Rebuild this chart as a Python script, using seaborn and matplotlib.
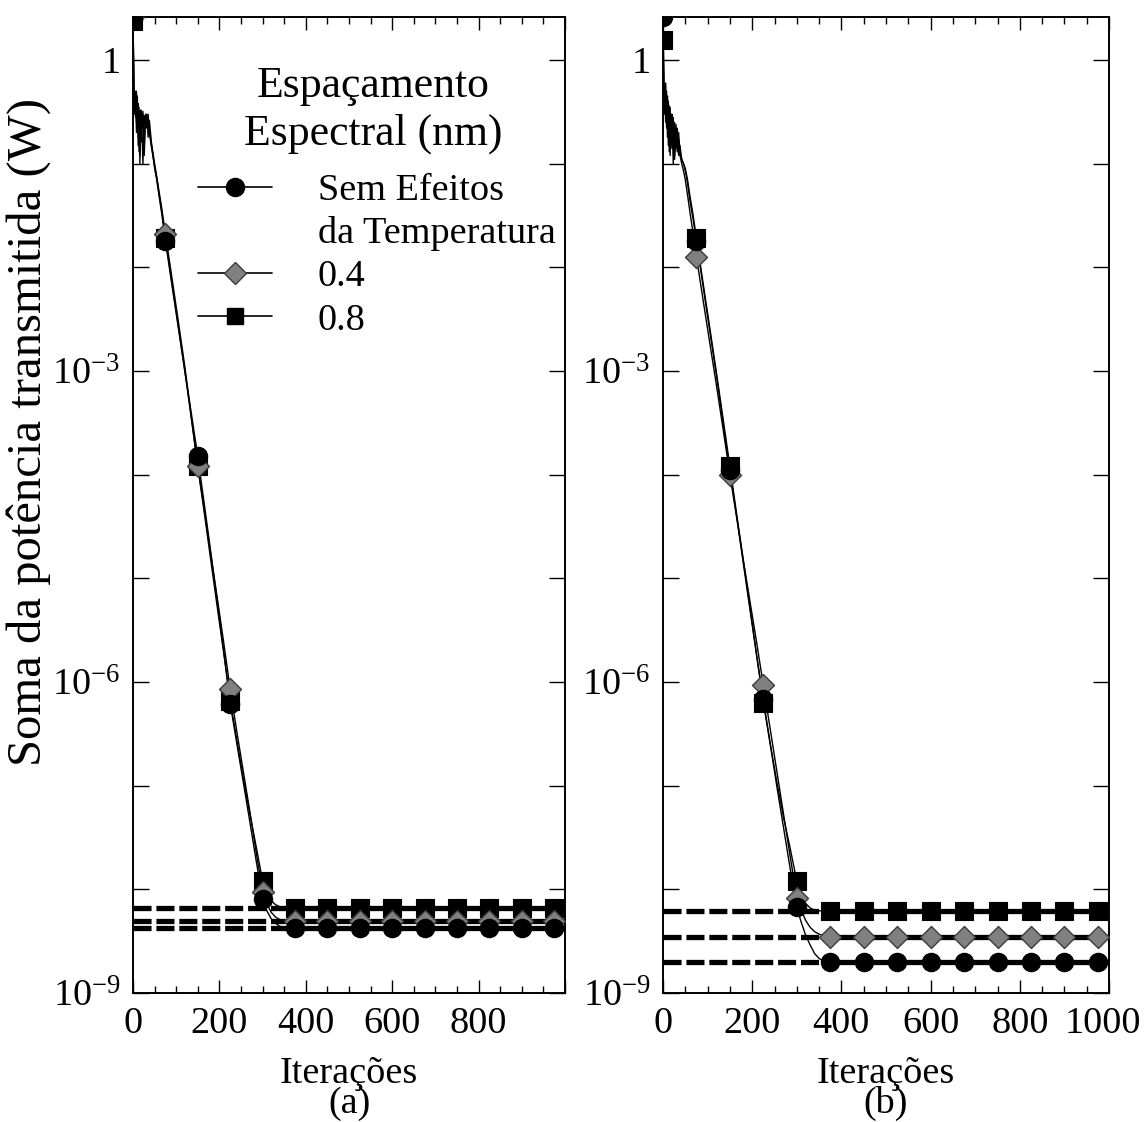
import matplotlib
matplotlib.use("Agg")
import matplotlib.pyplot as plt
from matplotlib.lines import Line2D
from matplotlib.transforms import ScaledTranslation
from matplotlib.ticker import FixedLocator, FixedFormatter, MultipleLocator, NullLocator
import seaborn as sns

# ---------------- data ----------------
curve_iter = [0, 2, 4, 6, 8, 10, 12, 14, 16, 18, 20, 23, 26, 29, 32, 35, 38, 42, 46, 50,
              55, 60, 67, 75, 90, 105, 120, 135, 150, 165, 180, 195, 210, 225, 240, 255,
              270, 285, 300, 310, 320, 330, 340, 350, 360, 375, 1000]

# panel (a)
a_sem = [2.5, 0.55, 0.3, 0.5, 0.2, 0.45, 0.15, 0.35, 0.1, 0.3, 0.22, 0.32, 0.12, 0.3, 0.25, 0.28,
         0.2, 0.15, 0.12, 0.09, 0.07, 0.05, 0.032, 0.018,
         6.8e-3, 2.6e-3, 1.0e-3, 3.9e-4, 1.5e-4, 5.2e-5, 1.8e-5, 6.0e-6, 2.0e-6, 6.2e-7, 2.6e-7,
         1.1e-7, 4.6e-8, 1.9e-8, 8.1e-9,
         6.2e-9, 5.2e-9, 4.7e-9, 4.4e-9, 4.3e-9, 4.2e-9, 4.2e-9, 4.2e-9]
a_04 = [2.6, 0.6, 0.35, 0.45, 0.25, 0.4, 0.18, 0.3, 0.12, 0.33, 0.2, 0.3, 0.15, 0.27, 0.22, 0.3,
        0.21, 0.16, 0.13, 0.1, 0.075, 0.055, 0.036, 0.021,
        8.0e-3, 3.0e-3, 1.1e-3, 3.6e-4, 1.2e-4, 4.6e-5, 1.7e-5, 6.5e-6, 2.4e-6, 8.5e-7, 3.4e-7,
        1.4e-7, 5.8e-8, 2.3e-8, 9.5e-9,
        7.2e-9, 6.0e-9, 5.4e-9, 5.1e-9, 5.0e-9, 4.9e-9, 4.9e-9, 4.9e-9]
a_08 = [2.4, 0.5, 0.4, 0.28, 0.5, 0.22, 0.38, 0.13, 0.32, 0.16, 0.28, 0.1, 0.29, 0.24, 0.3, 0.18,
        0.26, 0.17, 0.12, 0.095, 0.072, 0.052, 0.034, 0.019,
        7.2e-3, 2.7e-3, 1.0e-3, 3.5e-4, 1.2e-4, 4.3e-5, 1.5e-5, 5.3e-6, 1.9e-6, 6.6e-7, 2.8e-7,
        1.2e-7, 5.5e-8, 2.6e-8, 1.2e-8,
        9.0e-9, 7.8e-9, 7.1e-9, 6.8e-9, 6.7e-9, 6.6e-9, 6.6e-9, 6.6e-9]

# panel (b)
b_sem = [2.6, 0.6, 0.45, 0.25, 0.5, 0.18, 0.4, 0.13, 0.35, 0.2, 0.3, 0.1, 0.25, 0.14, 0.22, 0.12,
         0.15, 0.11, 0.1, 0.085, 0.065, 0.045, 0.03, 0.018,
         6.5e-3, 2.4e-3, 9.0e-4, 3.1e-4, 1.1e-4, 4.0e-5, 1.4e-5, 5.0e-6, 1.8e-6, 6.8e-7, 2.6e-7,
         1.0e-7, 4.0e-8, 1.6e-8, 6.7e-9,
         4.8e-9, 3.6e-9, 2.9e-9, 2.4e-9, 2.15e-9, 2.05e-9, 2.0e-9, 2.0e-9]
b_04 = [2.7, 0.55, 0.3, 0.5, 0.22, 0.42, 0.15, 0.33, 0.12, 0.28, 0.14, 0.26, 0.11, 0.2, 0.13, 0.17,
        0.12, 0.1, 0.085, 0.07, 0.05, 0.035, 0.022, 0.0126,
        4.8e-3, 1.85e-3, 7.2e-4, 2.7e-4, 1.0e-4, 3.9e-5, 1.5e-5, 6.0e-6, 2.4e-6, 9.3e-7, 3.6e-7,
        1.4e-7, 5.4e-8, 2.1e-8, 8.3e-9,
        6.3e-9, 5.0e-9, 4.3e-9, 3.9e-9, 3.7e-9, 3.55e-9, 3.5e-9, 3.5e-9]
b_08 = [1.55, 0.5, 0.38, 0.6, 0.3, 0.45, 0.2, 0.36, 0.15, 0.3, 0.18, 0.28, 0.12, 0.24, 0.15, 0.2,
        0.13, 0.11, 0.1, 0.09, 0.07, 0.05, 0.033, 0.019,
        7.0e-3, 2.6e-3, 9.5e-4, 3.4e-4, 1.2e-4, 4.2e-5, 1.5e-5, 5.3e-6, 1.8e-6, 6.3e-7, 2.6e-7,
        1.1e-7, 5.0e-8, 2.5e-8, 1.2e-8,
        8.8e-9, 7.3e-9, 6.6e-9, 6.3e-9, 6.2e-9, 6.2e-9, 6.2e-9, 6.2e-9]

marker_iter = [0, 75, 150, 225, 300, 375, 450, 525, 600, 675, 750, 825, 900, 975]
a_sem_mk = [2.5, 0.018, 1.5e-4, 6.2e-7, 8.1e-9, 4.2e-9, 4.2e-9, 4.2e-9, 4.2e-9, 4.2e-9, 4.2e-9, 4.2e-9, 4.2e-9, 4.2e-9]
a_04_mk = [2.6, 0.021, 1.2e-4, 8.5e-7, 9.5e-9, 4.9e-9, 4.9e-9, 4.9e-9, 4.9e-9, 4.9e-9, 4.9e-9, 4.9e-9, 4.9e-9, 4.9e-9]
a_08_mk = [2.4, 0.019, 1.2e-4, 6.6e-7, 1.2e-8, 6.6e-9, 6.6e-9, 6.6e-9, 6.6e-9, 6.6e-9, 6.6e-9, 6.6e-9, 6.6e-9, 6.6e-9]
b_sem_mk = [2.6, 0.018, 1.1e-4, 6.8e-7, 6.7e-9, 2.0e-9, 2.0e-9, 2.0e-9, 2.0e-9, 2.0e-9, 2.0e-9, 2.0e-9, 2.0e-9, 2.0e-9]
b_04_mk = [2.7, 0.0126, 1.0e-4, 9.3e-7, 8.3e-9, 3.5e-9, 3.5e-9, 3.5e-9, 3.5e-9, 3.5e-9, 3.5e-9, 3.5e-9, 3.5e-9, 3.5e-9]
b_08_mk = [1.55, 0.019, 1.2e-4, 6.3e-7, 1.2e-8, 6.2e-9, 6.2e-9, 6.2e-9, 6.2e-9, 6.2e-9, 6.2e-9, 6.2e-9, 6.2e-9, 6.2e-9]

# final (plateau) levels: Sem efeitos, 0.4, 0.8
a_plateau = [4.2e-9, 4.9e-9, 6.6e-9]
b_plateau = [2.0e-9, 3.5e-9, 6.2e-9]
dash_iter = [0, 360]
flat_iter = [375, 1000]

series_labels = ["Sem Efeitos", "da Temperatura", "0.4", "0.8"]
legend_title = "Espaçamento\nEspectral (nm)"
ytick_vals = [1e-9, 1e-8, 1e-7, 1e-6, 1e-5, 1e-4, 1e-3, 1e-2, 1e-1, 1]
ytick_text = ["$10^{-9}$", "", "", "$10^{-6}$", "", "", "$10^{-3}$", "", "", "1"]
xtick_vals = [0, 200, 400, 600, 800, 1000]
xtick_text_a = ["0", "200", "400", "600", "800", ""]
xtick_text_b = ["0", "200", "400", "600", "800", "1000"]
xlabel_text = "Iterações"
ylabel_text = "Soma da potência transmitida (W)"

# ---------------- style ----------------
sns.set_theme(style="ticks")
plt.rcParams.update({
    "font.family": ["Liberation Serif", "DejaVu Serif"],
    "mathtext.fontset": "custom",
    "mathtext.rm": "Liberation Serif",
    "mathtext.it": "Liberation Serif:italic",
    "mathtext.bf": "Liberation Serif:bold",
    "lines.scale_dashes": False,
    "axes.facecolor": "white",
    "figure.facecolor": "white",
    "text.color": "black",
    "axes.labelcolor": "black",
    "xtick.color": "black",
    "ytick.color": "black",
})

marker_styles = [
    dict(marker="o", s=175, color="black", edgecolor="black", linewidth=0.8),
    dict(marker="D", s=125, color="#808080", edgecolor="#3c3c3c", linewidth=1.0),
    dict(marker="s", s=150, color="black", edgecolor="black", linewidth=0.8),
]

fig = plt.figure(figsize=(11.44, 11.22), dpi=100)
axA = fig.add_axes([133 / 1144, 129 / 1122, 432 / 1144, 976 / 1122])
axB = fig.add_axes([663 / 1144, 129 / 1122, 446 / 1144, 976 / 1122])

panels = [
    (axA, [a_sem, a_04, a_08], [a_sem_mk, a_04_mk, a_08_mk], a_plateau, xtick_text_a, "(a)"),
    (axB, [b_sem, b_04, b_08], [b_sem_mk, b_04_mk, b_08_mk], b_plateau, xtick_text_b, "(b)"),
]

for ax, curves, marks, plats, xt, sub in panels:
    # draw order: 0.8 (square), 0.4 (diamond), Sem efeitos (circle) on top
    for idx in [2, 1, 0]:
        sns.lineplot(x=dash_iter, y=[plats[idx], plats[idx]], ax=ax, color="black",
                     linewidth=3.8, linestyle=(0, (13, 3.5)), zorder=1)
        sns.lineplot(x=flat_iter, y=[plats[idx], plats[idx]], ax=ax, color="black",
                     linewidth=3.8, zorder=1)
    for idx in [2, 1, 0]:
        sns.lineplot(x=curve_iter, y=curves[idx], ax=ax, color="black", linewidth=1.0,
                     sort=False, estimator=None, zorder=2)
    for idx in [2, 1, 0]:
        sns.scatterplot(x=marker_iter, y=marks[idx], ax=ax, zorder=3 + (2 - idx),
                        **marker_styles[idx])

    ax.set_yscale("log")
    ax.set_xlim(0, 1000)
    ax.set_ylim(1e-9, 2.6)
    ax.yaxis.set_major_locator(FixedLocator(ytick_vals))
    ax.yaxis.set_major_formatter(FixedFormatter(ytick_text))
    ax.yaxis.set_minor_locator(NullLocator())
    ax.xaxis.set_major_locator(FixedLocator(xtick_vals))
    ax.xaxis.set_major_formatter(FixedFormatter(xt))
    ax.xaxis.set_minor_locator(MultipleLocator(50))
    ax.tick_params(axis="both", which="both", direction="in", top=True, right=True,
                   colors="black", labelsize=27.5, width=1.0)
    ax.tick_params(axis="y", which="major", length=11.5, pad=9)
    ax.tick_params(axis="x", which="major", length=9.4, pad=10)
    ax.tick_params(axis="x", which="minor", length=5)
    for sp in ax.spines.values():
        sp.set_color("black")
        sp.set_linewidth(1.4)
    ax.grid(False)
    ax.set_ylabel("")
    ax.set_xlabel(xlabel_text + "\n" + sub, fontsize=27.5, linespacing=0.82, labelpad=11,
                  color="black")

axA.set_ylabel(ylabel_text, fontsize=35, color="black")
axA.yaxis.set_label_coords(-0.19, 0.575)

# legend title as a centred text block
axA.text(0.556, 0.950, legend_title, transform=axA.transAxes, ha="center", va="top",
         fontsize=31.5, linespacing=1.25, color="black")

handles = [
    Line2D([], [], color="black", lw=1.2, marker="o", ms=13, mfc="black", mec="black"),
    Line2D([], [], lw=0, alpha=0),
    Line2D([], [], color="black", lw=1.2, marker="D", ms=11, mfc="#808080", mec="#3c3c3c"),
    Line2D([], [], color="black", lw=1.2, marker="s", ms=12, mfc="black", mec="black"),
]
leg = axA.legend(handles, series_labels, loc="upper left",
                 bbox_to_anchor=(0.15, 0.840), frameon=False, fontsize=27.5,
                 handlelength=1.94, handletextpad=1.2,
                 labelspacing=0.22, borderpad=0, borderaxespad=0)
for t in leg.get_texts():
    t.set_color("black")

# nudge the last x tick label of panel (b) slightly left so it stays inside the figure
fig.canvas.draw()
last_lbl = axB.xaxis.get_majorticklabels()[-1]
last_lbl.set_transform(last_lbl.get_transform() + ScaledTranslation(-6 / 100, 0, fig.dpi_scale_trans))

fig.savefig("out.png", dpi=100)
